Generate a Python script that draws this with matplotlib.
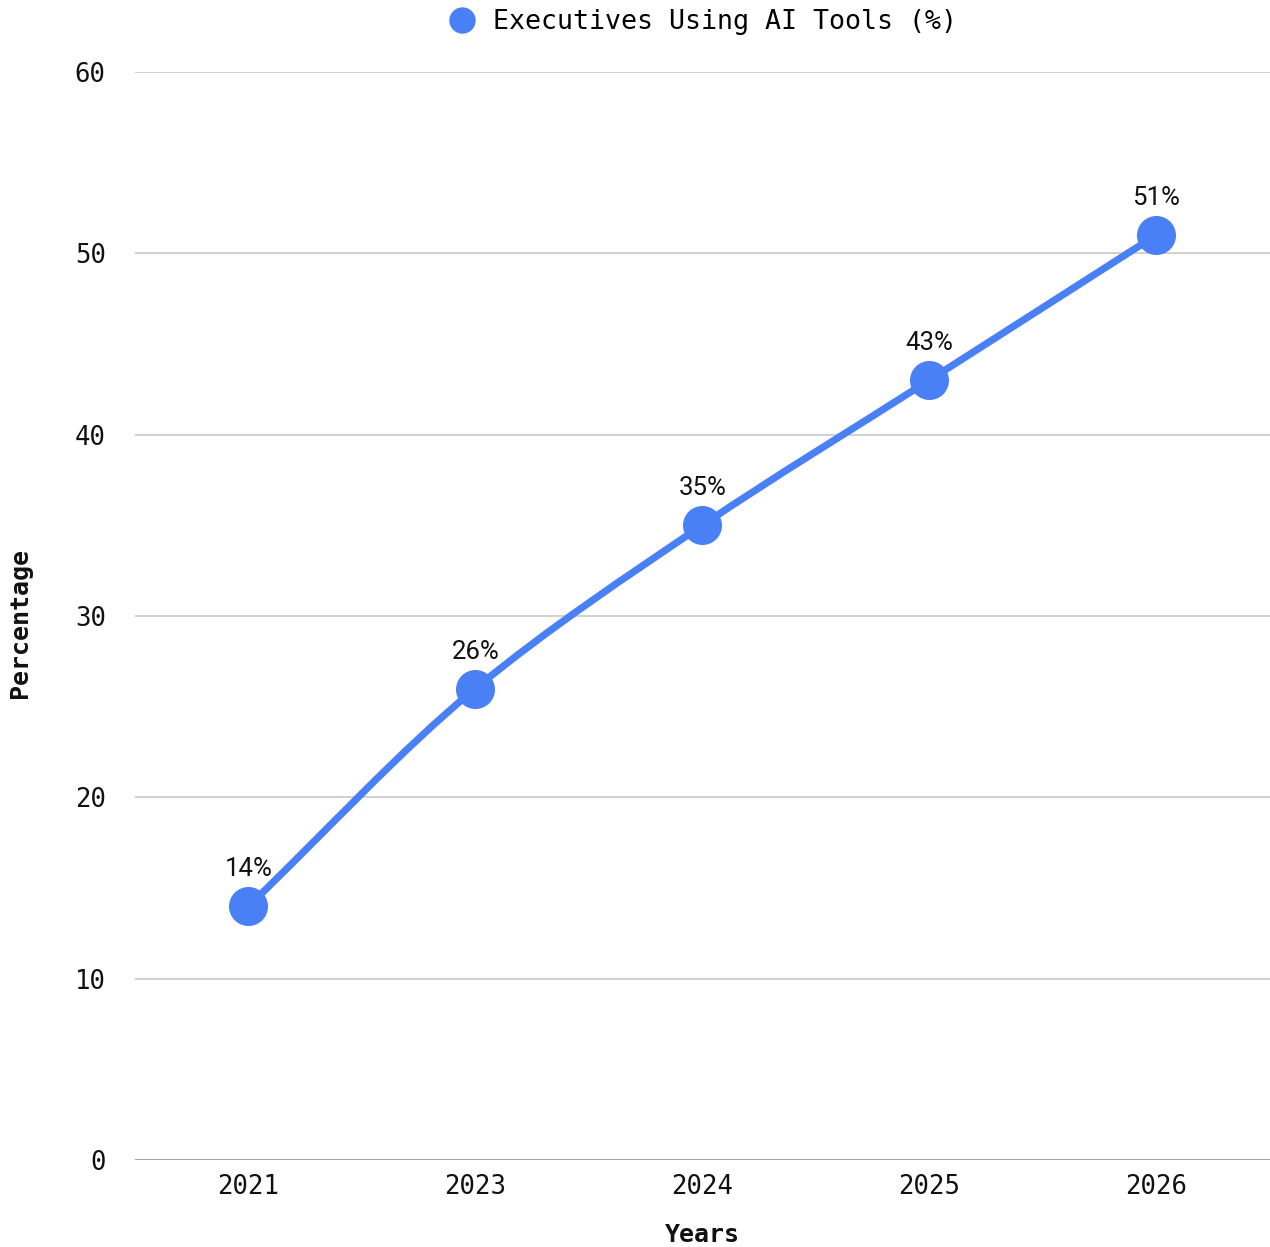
import matplotlib
matplotlib.use("Agg")
import matplotlib.pyplot as plt
from matplotlib.path import Path
from matplotlib.patches import PathPatch
from matplotlib.lines import Line2D
import numpy as np

years = ["2021", "2023", "2024", "2025", "2026"]
executives_pct = [14, 26, 35, 43, 51]
y_ticks = [0, 10, 20, 30, 40, 50, 60]
series_name = "Executives Using AI Tools (%)"

BLUE = "#4a80f5"
MONO = "DejaVu Sans Mono"

fig = plt.figure(figsize=(12.70, 12.47), dpi=100)
ax = fig.add_axes([135 / 1270, 1 - 1160 / 1247, 1134.5 / 1270, (1160 - 72) / 1247])

x = np.arange(len(years), dtype=float)
y = np.array(executives_pct, dtype=float)

# Monotone cubic tangents (Fritsch-Carlson) for a smooth line through the points
d = np.diff(y) / np.diff(x)
m = np.zeros_like(y)
m[0], m[-1] = d[0], d[-1]
for i in range(1, len(y) - 1):
    if d[i - 1] * d[i] <= 0:
        m[i] = 0
    else:
        m[i] = 2 / (1 / d[i - 1] + 1 / d[i])

verts = [(x[0], y[0])]
codes = [Path.MOVETO]
for i in range(len(x) - 1):
    h = x[i + 1] - x[i]
    verts += [(x[i] + h / 3, y[i] + m[i] * h / 3),
              (x[i + 1] - h / 3, y[i + 1] - m[i + 1] * h / 3),
              (x[i + 1], y[i + 1])]
    codes += [Path.CURVE4] * 3
ax.add_patch(PathPatch(Path(verts, codes), facecolor="none", edgecolor=BLUE,
                       lw=5.2, capstyle="round", joinstyle="round", zorder=3))

ax.scatter(x, y, s=790, color=BLUE, zorder=4, linewidths=0)

for xi, yi in zip(x, y):
    ax.annotate(f"{int(yi)}%", (xi, yi), xytext=(0, 18), textcoords="offset points",
                ha="center", va="bottom", fontsize=18.5, family="Roboto", color="#111111")

ax.set_xlim(-0.5, len(years) - 0.5)
ax.set_ylim(0, 60)
ax.set_yticks(y_ticks)
ax.set_yticklabels([str(t) for t in y_ticks], family=MONO, fontsize=18.5)
ax.set_xticks(x)
ax.set_xticklabels(years, family=MONO, fontsize=18.5)
ax.tick_params(axis="both", length=0, colors="#111111")
ax.tick_params(axis="y", pad=21)
ax.tick_params(axis="x", pad=10)

for t in y_ticks[1:]:
    ax.axhline(t, color="#c8c8c8", lw=1.2, zorder=1)
ax.axhline(0, color="#888888", lw=1.8, zorder=2)
for s in ax.spines.values():
    s.set_visible(False)

fig.text(702 / 1270, 1 - 1235 / 1247, "Years", ha="center", va="center",
         family=MONO, fontweight="bold", fontsize=18, color="#111111")
fig.text(20 / 1270, 1 - 623 / 1247, "Percentage", ha="center", va="center",
         rotation=90, family=MONO, fontweight="bold", fontsize=18, color="#111111")

handle = Line2D([], [], marker="o", color=BLUE, linestyle="none", markersize=18)
fig.legend([handle], [series_name], loc="center", bbox_to_anchor=(0.548, 1 - 22 / 1247),
           frameon=False, prop={"family": MONO, "size": 19.2}, handletextpad=0.15,
           borderaxespad=0)

fig.savefig("out.png", dpi=100, facecolor="white")
